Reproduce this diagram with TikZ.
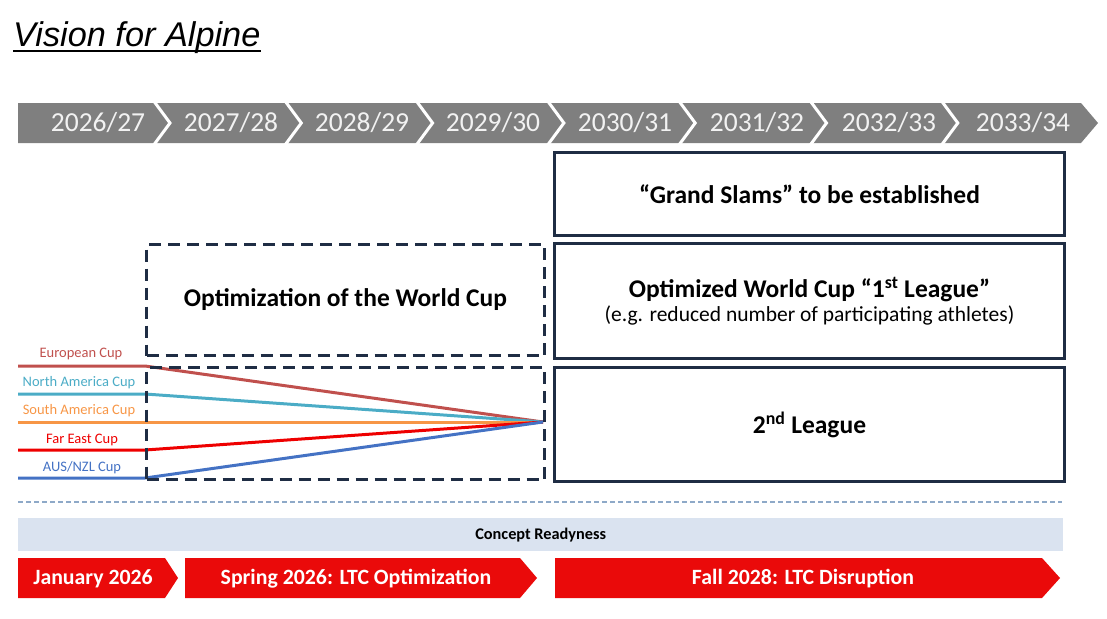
\documentclass[tikz,border=0pt]{standalone}
\usepackage{fontspec}
\setmainfont{Carlito}
\newfontfamily\arialfont{Liberation Sans}
\definecolor{bargray}{HTML}{7F7F7F}
\definecolor{yeartext}{HTML}{F2F2F2}
\definecolor{navy}{HTML}{1F2D44}
\definecolor{eucol}{HTML}{C0504D}
\definecolor{nacol}{HTML}{4BACC6}
\definecolor{sacol}{HTML}{F79646}
\definecolor{fecol}{HTML}{EE0000}
\definecolor{auscol}{HTML}{4472C4}
\definecolor{bandcol}{HTML}{DAE3F0}
\definecolor{sepcol}{HTML}{8EA9C8}
\definecolor{arrowred}{HTML}{EA0A0A}
\begin{document}
\begin{tikzpicture}[x=1pt,y=-1pt,
  yearlbl/.style={text=yeartext,font=\fontsize{27.5}{27.5}\selectfont,inner sep=0pt},
  solidbox/.style={draw=navy,line width=3pt,anchor=north west,inner sep=0pt,align=center},
  dashbox/.style={draw=navy,line width=3pt,dash pattern=on 12pt off 7pt,anchor=north west,inner sep=0pt,align=center},
  cuplbl/.style={font=\fontsize{14.5}{14.5}\selectfont,inner sep=0pt},
  cupline/.style={line width=3pt},
  redarrow/.style={fill=arrowred,draw=none},
  redtext/.style={text=white,font=\fontsize{21.8}{21.8}\selectfont\bfseries,inner sep=0pt}
]
\useasboundingbox (0,0) rectangle (1107,618);
% title
\node[anchor=base west,inner sep=0pt] (title) at (13,46) {\arialfont\fontsize{34.3}{34.3}\selectfont\itshape Vision for Alpine};
\draw[line width=2pt] ([yshift=-5pt]title.base west) -- ([yshift=-5pt]title.base east);
% season bar
\fill[bargray] (18,103) -- (1081,103) -- (1098,123) -- (1081,143) -- (18,143) -- cycle;
\foreach \b in {153,284.3,415.6,546.9,678.2,809.5,940.8}
  \draw[white,line width=3pt] (\b,100) -- (\b+17,123) -- (\b,146);
\node[yearlbl] (y1) at (98,123) {2026/27};
\node[yearlbl] (y2) at (231,123) {2027/28};
\node[yearlbl] (y3) at (362,123) {2028/29};
\node[yearlbl] (y4) at (493,123) {2029/30};
\node[yearlbl] (y5) at (625,123) {2030/31};
\node[yearlbl] (y6) at (757,123) {2031/32};
\node[yearlbl] (y7) at (889,123) {2032/33};
\node[yearlbl] (y8) at (1023,123) {2033/34};
% right boxes
\node[solidbox,minimum width=510pt,minimum height=83pt] (gs) at (553,151)
  {\fontsize{25.5}{28}\selectfont\bfseries “Grand Slams” to be established};
\node[solidbox,minimum width=510pt,minimum height=115pt] (wc) at (553,242)
  {{\fontsize{25.5}{28}\selectfont\bfseries Optimized World Cup “1\textsuperscript{st} League”}\\[3pt]
   {\fontsize{21.5}{22}\selectfont (e.g. reduced number of participating athletes)}};
\node[solidbox,minimum width=510pt,minimum height=114pt] (sl) at (553,366)
  {\fontsize{25.5}{28}\selectfont\bfseries 2\textsuperscript{nd} League};
% cup lines
\coordinate (conv) at (543,422);
\coordinate (eu0) at (18,366);  \coordinate (eu1) at (145,366);
\coordinate (na0) at (18,394);  \coordinate (na1) at (145,394);
\coordinate (sa0) at (18,422);  \coordinate (sa1) at (145,422);
\coordinate (fe0) at (18,450);  \coordinate (fe1) at (145,450);
\coordinate (au0) at (18,478);  \coordinate (au1) at (145,478);
\draw[cupline,eucol] (eu0) -- (eu1) -- (conv);
\draw[cupline,nacol] (na0) -- (na1) -- (conv);
\draw[cupline,sacol] (sa0) -- (sa1) -- (conv);
\draw[cupline,fecol] (fe0) -- (fe1) -- (conv);
\draw[cupline,auscol] (au0) -- (au1) -- (conv);
\node[cuplbl,text=eucol] (eul) at (81,354) {European Cup};
\node[cuplbl,text=nacol] (nal) at (79,383) {North America Cup};
\node[cuplbl,text=sacol] (sal) at (79,411) {South America Cup};
\node[cuplbl,text=fecol] (fel) at (82,440) {Far East Cup};
\node[cuplbl,text=auscol] (aul) at (82,468) {AUS/NZL Cup};
% dashed boxes
\node[dashbox,minimum width=398pt,minimum height=111pt] (opt) at (145,243)
  {\fontsize{25.5}{28}\selectfont\bfseries Optimization of the World Cup};
\node[dashbox,minimum width=398pt,minimum height=112pt] (low) at (145,366) {};
% separator
\draw[sepcol,line width=1.2pt,dash pattern=on 5pt off 3pt] (18,502) -- (1062,502);
% concept band
\node[fill=bandcol,anchor=north west,minimum width=1045pt,minimum height=33pt,inner sep=0pt,
  font=\fontsize{16.3}{16.3}\selectfont\bfseries] (cr) at (18,518) {Concept Readyness};
% red arrows
\fill[redarrow] (18,558) -- (165,558) -- (178,578) -- (165,598) -- (18,598) -- cycle;
\fill[redarrow] (185,558) -- (520,558) -- (537,578) -- (520,598) -- (185,598) -- cycle;
\fill[redarrow] (555,558) -- (1042,558) -- (1060,578) -- (1042,598) -- (555,598) -- cycle;
\node[redtext] (jan) at (93,579) {January 2026};
\node[redtext] (spr) at (356,579) {Spring 2026: LTC Optimization};
\node[redtext] (fall) at (803,579) {Fall 2028: LTC Disruption};
\end{tikzpicture}
\end{document}
